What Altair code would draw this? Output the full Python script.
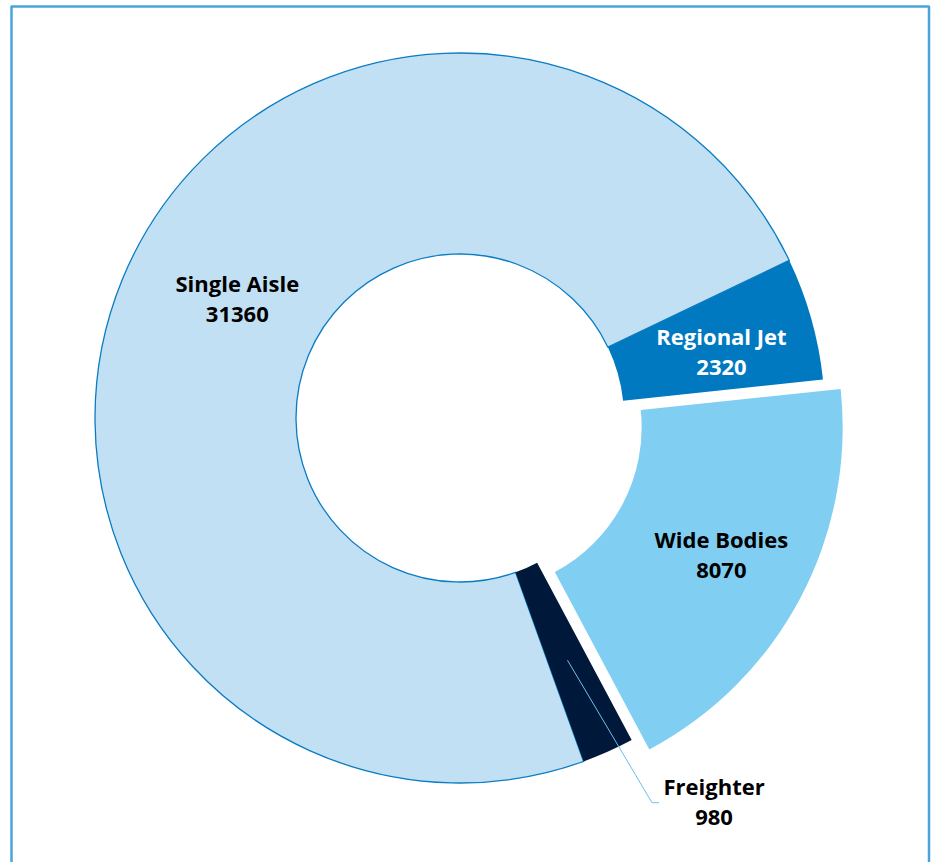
import math
import altair as alt
import pandas as pd

# ---- data ----
categories = ["Single Aisle", "Regional Jet", "Wide Bodies", "Freighter"]
values = [31360, 2320, 8070, 980]

# ---- style / layout ----
colors = ["#c2e0f3", "#0079c1", "#80cef1", "#00193a"]
label_colors = ["#000000", "#ffffff", "#000000", "#000000"]
explode = [0, 0, 20, 0]
label_nudge = [(22, -18), (7, 7), (10, 5), (0, 0)]
CX, CY = 460, 418
R_OUT, R_IN = 365, 164
START_DEG = 160.2
FONT = "Open Sans"
FS = 22
LH = 30
W, H = 935, 862

total = sum(values)
start = math.radians(START_DEG)


def polar(cx, cy, ang, r):
    return cx + r * math.sin(ang), cy - r * math.cos(ang)


rows = []
labels = []
cum = 0
mids = []
for i, (c, v) in enumerate(zip(categories, values)):
    a0 = start + 2 * math.pi * cum / total
    cum += v
    a1 = start + 2 * math.pi * cum / total
    mid = (a0 + a1) / 2
    mids.append(mid)
    cx, cy = polar(CX, CY, mid, explode[i])
    rows.append(dict(category=c, value=v, order=i, cx=cx, cy=cy))
    if c != "Freighter":
        lx, ly = polar(cx, cy, mid, (R_OUT + R_IN) / 2)
        labels.append(dict(category=c, label=f"{c}\n{v}",
                           lx=lx + label_nudge[i][0], ly=ly + label_nudge[i][1] - LH / 2,
                           tcolor=label_colors[i]))

df = pd.DataFrame(rows)

# Freighter leader line + outside label
fi = categories.index("Freighter")
p0 = polar(CX, CY, mids[fi], 265)
p1 = polar(CX, CY, mids[fi] - math.radians(2.6), 430)
p2 = (p1[0] + 7, p1[1])
leader = pd.DataFrame({"px": [p0[0], p1[0], p2[0]], "py": [p0[1], p1[1], p2[1]], "k": [0, 1, 2]})
labels.append(dict(category="Freighter", label=f"Freighter\n{values[fi]}",
                   lx=p2[0] + 55, ly=p2[1] - LH / 2, tcolor=label_colors[fi]))
ldf = pd.DataFrame(labels)

arcs = alt.Chart(df).mark_arc(innerRadius=R_IN, outerRadius=R_OUT, stroke="#0a7cc4",
                              strokeWidth=1.3).encode(
    theta=alt.Theta("value:Q", stack=True,
                    scale=alt.Scale(domain=[0, total], range=[start, start + 2 * math.pi])),
    order=alt.Order("order:Q"),
    color=alt.Color("category:N", scale=alt.Scale(domain=categories, range=colors), legend=None),
    strokeOpacity=alt.condition(alt.datum.category == "Single Aisle", alt.value(1), alt.value(0)),
    x=alt.X("cx:Q", scale=None),
    y=alt.Y("cy:Q", scale=None),
)

line = alt.Chart(leader).mark_line(color="#6cc0ea", strokeWidth=1).encode(
    x=alt.X("px:Q", scale=None),
    y=alt.Y("py:Q", scale=None),
    order="k:Q",
)

text = alt.Chart(ldf).mark_text(
    font=FONT, fontSize=FS, fontWeight="bold", align="center", baseline="middle",
    lineBreak="\n", lineHeight=LH,
).encode(
    x=alt.X("lx:Q", scale=None),
    y=alt.Y("ly:Q", scale=None),
    text="label:N",
    color=alt.Color("tcolor:N", scale=None),
)

one = pd.DataFrame({"a": [0]})
frame_color = "#4aa3db"
top = alt.Chart(one).mark_rule(color=frame_color, strokeWidth=2.5).encode(
    x=alt.value(11), x2=alt.value(929.5), y=alt.value(6.5))
left = alt.Chart(one).mark_rule(color=frame_color, strokeWidth=2.5).encode(
    x=alt.value(11.5), y=alt.value(6), y2=alt.value(H + 5))
right = alt.Chart(one).mark_rule(color=frame_color, strokeWidth=2.5).encode(
    x=alt.value(929), y=alt.value(6), y2=alt.value(H + 5))

chart = alt.layer(arcs, line, text, top, left, right).properties(
    width=W, height=H, autosize="none", padding=0, background="white"
).configure_view(stroke=None)

chart.save("out.html", embed_options={"renderer": "svg", "actions": False})
